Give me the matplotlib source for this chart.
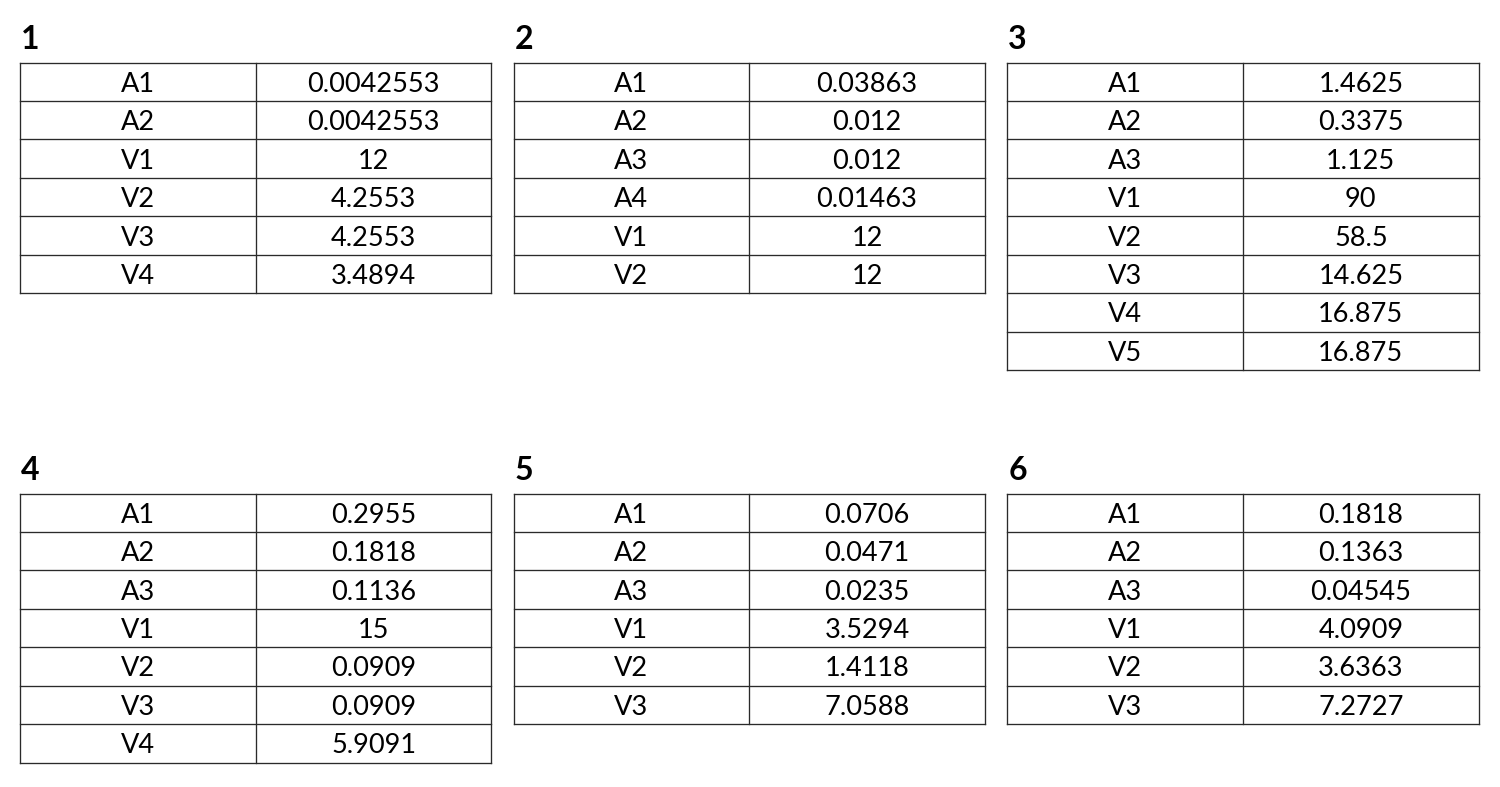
import matplotlib
matplotlib.use("Agg")
import matplotlib.pyplot as plt

# ---- data ----
titles = ["1", "2", "3", "4", "5", "6"]
labels_1 = ["A1", "A2", "V1", "V2", "V3", "V4"]
values_1 = ["0.0042553", "0.0042553", "12", "4.2553", "4.2553", "3.4894"]
labels_2 = ["A1", "A2", "A3", "A4", "V1", "V2"]
values_2 = ["0.03863", "0.012", "0.012", "0.01463", "12", "12"]
labels_3 = ["A1", "A2", "A3", "V1", "V2", "V3", "V4", "V5"]
values_3 = ["1.4625", "0.3375", "1.125", "90", "58.5", "14.625", "16.875", "16.875"]
labels_4 = ["A1", "A2", "A3", "V1", "V2", "V3", "V4"]
values_4 = ["0.2955", "0.1818", "0.1136", "15", "0.0909", "0.0909", "5.9091"]
labels_5 = ["A1", "A2", "A3", "V1", "V2", "V3"]
values_5 = ["0.0706", "0.0471", "0.0235", "3.5294", "1.4118", "7.0588"]
labels_6 = ["A1", "A2", "A3", "V1", "V2", "V3"]
values_6 = ["0.1818", "0.1363", "0.04545", "4.0909", "3.6363", "7.2727"]

tables = [
    (labels_1, values_1), (labels_2, values_2), (labels_3, values_3),
    (labels_4, values_4), (labels_5, values_5), (labels_6, values_6),
]

# ---- layout (pixels) ----
W, H = 1500, 787
col_left = [20, 513.5, 1007.3]
row_top = [62.5, 493.5]
tab_w = 471.3
div_w = 235.8
row_h = 38.45
line_col = "#2a2a2a"
lw = 0.95
font = ["Lato", "DejaVu Sans"]

fig = plt.figure(figsize=(W / 100, H / 100), dpi=100)
ax = fig.add_axes([0, 0, 1, 1])
ax.set_xlim(0, W)
ax.set_ylim(H, 0)
ax.axis("off")

for i, (title, (labs, vals)) in enumerate(zip(titles, tables)):
    x0 = col_left[i % 3]
    y0 = row_top[i // 3]
    n = len(labs)
    ax.text(x0 + 1, y0 - 13.5, title, fontsize=23, fontweight="bold",
            family=font, ha="left", va="baseline", color="black")
    y1 = y0 + n * row_h
    for r in range(n + 1):
        y = y0 + r * row_h
        ax.plot([x0, x0 + tab_w], [y, y], color=line_col, lw=lw,
                solid_capstyle="projecting")
    for xx in (x0, x0 + div_w, x0 + tab_w):
        ax.plot([xx, xx], [y0, y1], color=line_col, lw=lw,
                solid_capstyle="projecting")
    for r, (lab, val) in enumerate(zip(labs, vals)):
        yb = y0 + r * row_h + 29.2
        ax.text(x0 + div_w / 2, yb, lab, fontsize=19.5, family=font,
                ha="center", va="baseline", color="black")
        ax.text(x0 + div_w + (tab_w - div_w) / 2, yb, val, fontsize=19.5,
                family=font, ha="center", va="baseline", color="black")

fig.savefig("out.png", dpi=100, facecolor="white")
